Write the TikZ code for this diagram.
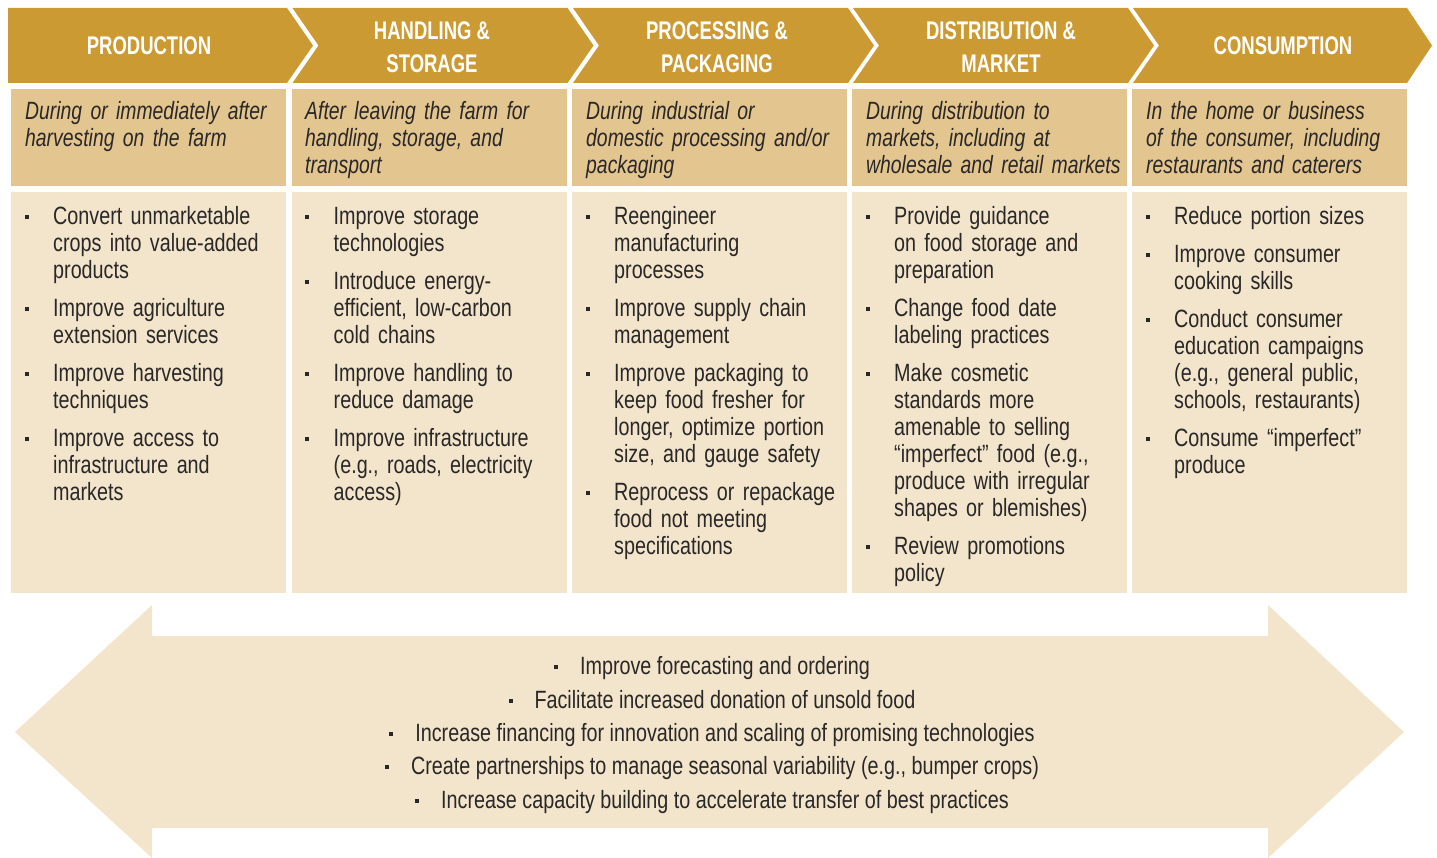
\documentclass[tikz,border=0pt]{standalone}
\usepackage{fontspec}
\setmainfont{Liberation Sans}[FakeStretch=0.79,ItalicFeatures={FakeStretch=0.775}]
\newfontfamily\hdfont{Liberation Sans}[FakeStretch=0.725]
\definecolor{hdr}{HTML}{CC9A33}
\definecolor{dsc}{HTML}{E3C58F}
\definecolor{lst}{HTML}{F3E5CC}
\definecolor{txt}{HTML}{2A2727}
\newcommand\bul{\leavevmode\llap{\raisebox{5.5pt}{\rule{4pt}{4pt}}\hspace{24.5pt}}}
\newcommand\cbul{\raisebox{5.5pt}{\rule{4pt}{4pt}}\hspace{22pt}}
\newcommand\nx{\par\vskip11pt}
\tikzset{
  hdtext/.style={anchor=center, inner sep=0pt, align=center, text=white,
    font=\hdfont\bfseries\fontsize{25.5}{32.5}\selectfont},
  desctext/.style={anchor=base west, inner sep=0pt, text width=262pt, align=left, text=txt,
    font=\itshape\fontsize{25}{27}\selectfont},
  listtext/.style={anchor=base west, inner sep=0pt, text width=250pt, align=left, text=txt,
    font=\fontsize{25}{27}\selectfont},
  arrowtext/.style={anchor=base, inner sep=0pt, align=center, text=txt,
    font=\fontsize{25}{33.3}\selectfont},
}
\begin{document}
\begin{tikzpicture}[x=1pt,y=-1pt]
\useasboundingbox (0,0) rectangle (1437,858);
% header chevrons
\fill[hdr] (8,8) -- (287,8) -- (313,45.5) -- (287,83) -- (8,83) -- cycle;
\fill[hdr] (292.5,8) -- (567.5,8) -- (593.5,45.5) -- (567.5,83) -- (292.5,83) -- (318.5,45.5) -- cycle;
\fill[hdr] (573,8) -- (848,8) -- (874,45.5) -- (848,83) -- (573,83) -- (599,45.5) -- cycle;
\fill[hdr] (853,8) -- (1128,8) -- (1154,45.5) -- (1128,83) -- (853,83) -- (879,45.5) -- cycle;
\fill[hdr] (1133,8) -- (1407,8) -- (1432,45.5) -- (1407,83) -- (1133,83) -- (1159,45.5) -- cycle;
% description and list boxes
\foreach \s in {11,291.5,572,852,1132}{
  \fill[dsc] (\s,89) rectangle ++(275,97);
  \fill[lst] (\s,192) rectangle ++(275,401);
}
% double arrow
\fill[lst] (15,732) -- (152,605) -- (152,636) -- (1268,636) -- (1268,605) -- (1404,732)
  -- (1268,858) -- (1268,828) -- (152,828) -- (152,858) -- cycle;
% headers
\node[hdtext] (h1) at (149,46) {PRODUCTION};
\node[hdtext] (h2) at (432,47) {HANDLING \&\\STORAGE};
\node[hdtext] (h3) at (717,47) {PROCESSING \&\\PACKAGING};
\node[hdtext] (h4) at (1001,47) {DISTRIBUTION \&\\MARKET};
\node[hdtext] (h5) at (1283,46) {CONSUMPTION};
% descriptions
\node[desctext] (d1) at (25,120) {During or immediately after\\harvesting on the farm};
\node[desctext] (d2) at (305,120) {After leaving the farm for\\handling, storage, and\\transport};
\node[desctext] (d3) at (586,120) {During industrial or\\domestic processing and/or\\packaging};
\node[desctext] (d4) at (866,120) {During distribution to\\markets, including at\\wholesale and retail markets};
\node[desctext] (d5) at (1146,120) {In the home or business\\of the consumer, including\\restaurants and caterers};
% lists
\node[listtext] (l1) at (28,225) {\leftskip=25pt
\bul Convert unmarketable\\crops into value-added\\products\nx
\bul Improve agriculture\\extension services\nx
\bul Improve harvesting\\techniques\nx
\bul Improve access to\\infrastructure and\\markets\par};
\node[listtext] (l2) at (308.5,225) {\leftskip=25pt
\bul Improve storage\\technologies\nx
\bul Introduce energy-\\efficient, low-carbon\\cold chains\nx
\bul Improve handling to\\reduce damage\nx
\bul Improve infrastructure\\(e.g., roads, electricity\\access)\par};
\node[listtext] (l3) at (589,225) {\leftskip=25pt
\bul Reengineer\\manufacturing\\processes\nx
\bul Improve supply chain\\management\nx
\bul Improve packaging to\\keep food fresher for\\longer, optimize portion\\size, and gauge safety\nx
\bul Reprocess or repackage\\food not meeting\\specifications\par};
\node[listtext] (l4) at (869,225) {\leftskip=25pt
\bul Provide guidance\\on food storage and\\preparation\nx
\bul Change food date\\labeling practices\nx
\bul Make cosmetic\\standards more\\amenable to selling\\“imperfect” food (e.g.,\\produce with irregular\\shapes or blemishes)\nx
\bul Review promotions\\policy\par};
\node[listtext] (l5) at (1149,225) {\leftskip=25pt
\bul Reduce portion sizes\nx
\bul Improve consumer\\cooking skills\nx
\bul Conduct consumer\\education campaigns\\(e.g., general public,\\schools, restaurants)\nx
\bul Consume “imperfect”\\produce\par};
% cross-cutting actions
\node[arrowtext] (a1) at (712,808) {\cbul Improve forecasting and ordering\\
\cbul Facilitate increased donation of unsold food\\
\cbul Increase financing for innovation and scaling of promising technologies\\
\cbul Create partnerships to manage seasonal variability (e.g., bumper crops)\\
\cbul Increase capacity building to accelerate transfer of best practices};
\end{tikzpicture}
\end{document}
